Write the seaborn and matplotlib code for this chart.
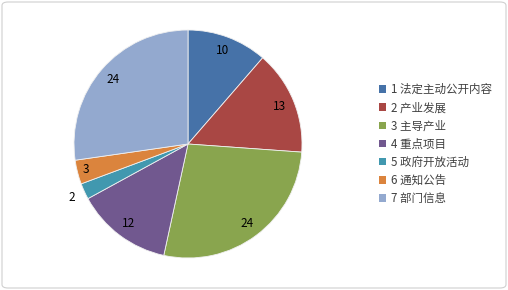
import matplotlib
matplotlib.use("Agg")
import matplotlib.pyplot as plt
import seaborn as sns
import numpy as np
from matplotlib.patches import FancyBboxPatch, Patch

categories = ["1 法定主动公开内容", "2 产业发展", "3 主导产业", "4 重点项目",
              "5 政府开放活动", "6 通知公告", "7 部门信息"]
values = [10, 13, 24, 12, 2, 3, 24]
colors = ["#4672A8", "#A94744", "#89A54E", "#71588F", "#4198AF", "#DB843D", "#93A9CF"]

sns.set_theme(style="white")
plt.rcParams['font.family'] = ['Noto Sans CJK SC', 'DejaVu Sans']

W, H = 508, 290
fig = plt.figure(figsize=(W / 100, H / 100), dpi=100)
fig.patch.set_facecolor("white")

# rounded border
border = FancyBboxPatch((2 / W, 2 / H), (W - 4) / W, (H - 4) / H,
                        boxstyle="round,pad=0,rounding_size=0.012",
                        transform=fig.transFigure, facecolor="none",
                        edgecolor="#D0D0D0", linewidth=0.8, zorder=-1)
fig.patches.append(border)

cx, cy, r = 188, 144, 114
ax = fig.add_axes([(cx - r) / W, (H - cy - r) / H, 2 * r / W, 2 * r / H])
wedges, _ = ax.pie(values, colors=colors, startangle=90, counterclock=False,
                   radius=1, wedgeprops=dict(edgecolor="#F0F0F0", linewidth=0.6))
ax.set_xlim(-1, 1)
ax.set_ylim(-1, 1)
ax.set_aspect("equal")
ax.axis("off")

total = sum(values)
dists = [0.88, 0.87, 0.87, 0.87, 1.12, 0.92, 0.87]
cum = 0
for v, d in zip(values, dists):
    mid = (cum + v / 2) / total * 2 * np.pi
    cum += v
    x = d * np.sin(mid)
    y = d * np.cos(mid)
    ax.text(x, y, str(v), ha="center", va="center", fontsize=8.5, color="black")

handles = [Patch(facecolor=c, edgecolor="none") for c in colors]
leg = fig.legend(handles, categories, loc="upper left",
                 bbox_to_anchor=(379 / W, 1 - 83 / H), frameon=False,
                 fontsize=8.3, handlelength=0.6, handleheight=0.6,
                 handletextpad=0.4, labelspacing=0.45, borderpad=0, borderaxespad=0)
for t in leg.get_texts():
    t.set_color("#404040")

fig.savefig("out.png", dpi=100)
